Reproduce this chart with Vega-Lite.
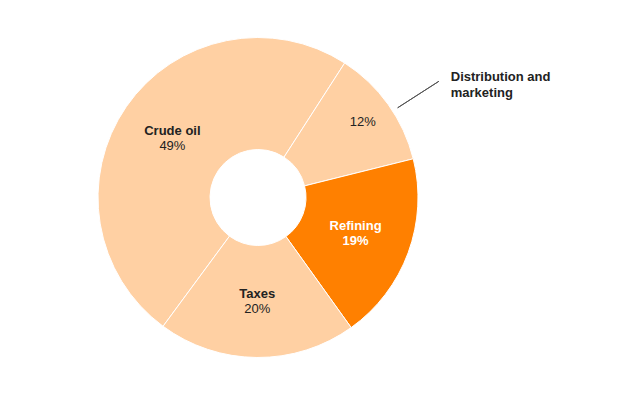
{
  "$schema": "https://vega.github.io/schema/vega-lite/v6.json",
  "width": 516,
  "height": 395,
  "autosize": {"type": "none"},
  "padding": {"left": 0, "top": 0, "right": 104, "bottom": 0},
  "background": "white",
  "config": {"view": {"stroke": null}, "font": "Liberation Sans"},
  "data": {
    "values": [
      {"category": "Crude oil", "label": "Crude oil", "pct": "49%", "value": 49},
      {"category": "Distribution and marketing", "label": "Distribution and\nmarketing", "pct": "12%", "value": 12},
      {"category": "Refining", "label": "Refining", "pct": "19%", "value": 19},
      {"category": "Taxes", "label": "Taxes", "pct": "20%", "value": 20}
    ]
  },
  "encoding": {
    "theta": {
      "field": "value",
      "type": "quantitative",
      "stack": true,
      "scale": {"domain": [0, 100], "range": [3.777, 10.060]}
    },
    "order": {"field": "category", "type": "nominal", "sort": "ascending"}
  },
  "layer": [
    {
      "mark": {"type": "arc", "outerRadius": 160, "innerRadius": 48, "stroke": "white", "strokeWidth": 1},
      "encoding": {
        "color": {
          "field": "category",
          "type": "nominal",
          "scale": {
            "domain": ["Crude oil", "Distribution and marketing", "Refining", "Taxes"],
            "range": ["#ffd0a3", "#ffd0a3", "#ff8000", "#ffd0a3"]
          },
          "legend": null
        }
      }
    },
    {
      "mark": {"type": "text", "radius": 104, "dy": -7, "fontSize": 13, "fontWeight": "bold", "baseline": "middle", "align": "center"},
      "encoding": {
        "text": {"condition": {"test": "datum.category === 'Distribution and marketing'", "value": ""}, "field": "label"},
        "color": {"condition": {"test": "datum.category === 'Refining'", "value": "#ffffff"}, "value": "#222222"}
      }
    },
    {
      "mark": {"type": "text", "radius": 104, "dy": 8, "fontSize": 13, "fontWeight": "normal", "baseline": "middle", "align": "center", "color": "#222222"},
      "encoding": {
        "text": {"condition": {"test": "datum.category === 'Crude oil' || datum.category === 'Taxes'", "field": "pct"}, "value": ""}
      }
    },
    {
      "mark": {"type": "text", "radius": 104, "dy": 8, "fontSize": 13, "fontWeight": "bold", "baseline": "middle", "align": "center", "color": "#ffffff"},
      "encoding": {
        "text": {"condition": {"test": "datum.category === 'Refining'", "field": "pct"}, "value": ""}
      }
    },
    {
      "mark": {"type": "text", "radius": 129, "fontSize": 13, "fontWeight": "normal", "baseline": "middle", "align": "center", "color": "#222222"},
      "encoding": {
        "text": {"condition": {"test": "datum.category === 'Distribution and marketing'", "field": "pct"}, "value": ""}
      }
    },
    {
      "mark": {"type": "text", "radius": 194, "dx": 35, "dy": -8, "fontSize": 13, "fontWeight": "bold", "baseline": "middle", "align": "left", "lineBreak": "\n", "lineHeight": 16, "color": "#222222"},
      "encoding": {
        "text": {"condition": {"test": "datum.category === 'Distribution and marketing'", "field": "label"}, "value": ""}
      }
    },
    {
      "transform": [{"filter": "datum.category === 'Distribution and marketing'"}],
      "mark": {"type": "arc", "radius": 215, "radius2": 166, "fill": null, "fillOpacity": 0, "stroke": "#555555", "strokeWidth": 1},
      "encoding": {
        "theta": {"datum": 55.8, "type": "quantitative"},
        "theta2": {"datum": 55.8},
        "order": null
      }
    }
  ]
}
